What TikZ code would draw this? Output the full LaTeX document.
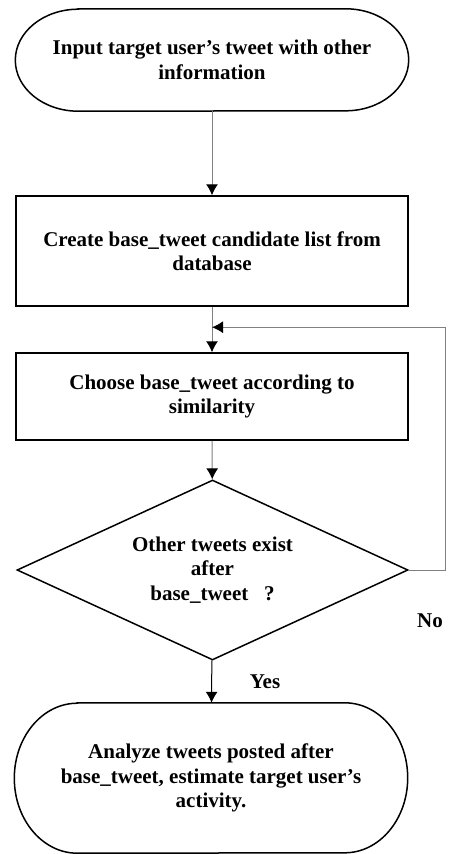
\documentclass[tikz,border=0pt]{standalone}
\usepackage{fontspec}
\setmainfont{Liberation Serif}
\usetikzlibrary{arrows.meta,shapes.geometric,calc}

\begin{document}
\begin{tikzpicture}[x=1pt,y=-1pt,
	font=\fontsize{21}{24.5}\selectfont\bfseries,
	box/.style={draw,line width=1.5pt,minimum width=392pt,inner sep=0pt,align=center},
	term/.style={minimum width=393pt,inner sep=0pt,align=center},
	flow/.style={draw=gray,line width=1pt,-{Latex[length=11pt,width=12pt,color=black]}}]

\def\termline#1#2#3{
	\draw[line width=1.5pt] ([xshift=#2]#1.north west) -- ([xshift=-#2]#1.north east)
		arc[start angle=90,end angle=-90,x radius=#2,y radius=#3]
		-- ([xshift=#2]#1.south west)
		arc[start angle=270,end angle=90,x radius=#2,y radius=#3] -- cycle;
}

\useasboundingbox (0,0) rectangle (449,854);

\node[term,minimum height=102pt] (start) at (212,60)
	{Input target user’s tweet with other\\information};
\node[box,minimum height=110pt] (create) at (212,251)
	{Create base\_tweet candidate list from\\database};
\node[box,minimum height=87pt] (choose) at (212,396.5)
	{Choose base\_tweet according to\\similarity};
\node[draw,diamond,line width=1.5pt,shape aspect=2.17,minimum width=391pt,
	minimum height=180pt,inner sep=0pt,align=center] (decide) at (212.5,570)
	{Other tweets exist\\after\\base\_tweet\ \ \ ?};
\node[term,minimum height=150pt] (analyze) at (211,778)
	{Analyze tweets posted after\\base\_tweet, estimate target user’s\\activity.};

\termline{start}{63pt}{51pt}
\termline{analyze}{63pt}{75pt}

\coordinate (join) at ($(create.south)!0.45!(choose.north)$);

\draw[flow] (start) -- (create);
\draw[draw=gray,line width=1pt] (create) -- (join);
\draw[flow] (join) -- (choose);
\draw[flow] (choose) -- (decide);
\draw[flow] (decide.east) -- ++(37,0) |- (join);
\draw[flow,draw=black] (decide) -- (analyze);

\node (no) at (430,621) {No};
\node (yes) at (265,682) {Yes};

\end{tikzpicture}
\end{document}
